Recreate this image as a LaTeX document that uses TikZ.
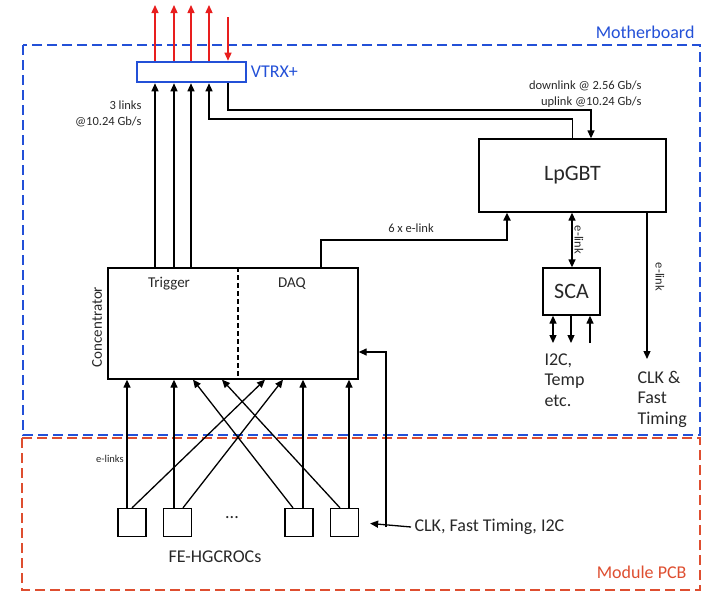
\documentclass[tikz,border=0pt]{standalone}
\usepackage{fontspec}
\setmainfont{Carlito}
\usetikzlibrary{arrows.meta,positioning}
\definecolor{mbblue}{RGB}{35,80,215}
\definecolor{pcbred}{RGB}{222,78,48}
\definecolor{arrred}{RGB}{232,30,30}
\definecolor{txtgray}{RGB}{40,40,40}

\tikzset{
  box/.style={draw,line width=1.3pt,inner sep=0pt},
  link/.style={line width=1.3pt,-{Triangle[length=8pt,width=7pt]}},
  dlink/.style={line width=1.3pt,{Triangle[length=8pt,width=7pt]}-{Triangle[length=8pt,width=7pt]}},
  redlink/.style={arrred,line width=1.3pt,-{Triangle[length=8pt,width=7pt]}},
  region/.style={line width=2.6pt,dash pattern=on 10pt off 5pt},
  small/.style={font=\fontsize{12.5}{16}\selectfont,text=txtgray},
  mid/.style={font=\fontsize{15}{18}\selectfont,text=txtgray},
  big/.style={font=\fontsize{18}{20.5}\selectfont,text=txtgray},
  huge/.style={font=\fontsize{22}{26}\selectfont,text=txtgray},
}

\begin{document}
\begin{tikzpicture}[x=1pt,y=-1pt]
\useasboundingbox (0,0) rectangle (710,592);

% boards
\draw[region,mbblue] (23,45) rectangle (700,435);
\draw[region,pcbred] (22,438) rectangle (700,590);
\node[big,text=mbblue,anchor=base east] (mblabel) at (698,38) {Motherboard};
\node[big,text=pcbred,anchor=base east] (pcblabel) at (690,578) {Module PCB};

% blocks
\node[box,draw=mbblue,line width=2.6pt,minimum width=109pt,minimum height=20pt] (vtrx) at (191.5,72) {};
\node[big,text=mbblue,anchor=west] (vtrxlabel) at (vtrx.east) {VTRX+};
\node[box,huge,minimum width=187pt,minimum height=73pt] (lpgbt) at (572.5,175.5) {LpGBT};
\node[box,huge,minimum width=57pt,minimum height=47pt] (sca) at (571.5,291.5) {SCA};
\node[box,minimum width=250pt,minimum height=111pt] (conc) at (233,323.5) {};
\draw[line width=1.3pt,dash pattern=on 5pt off 3pt] (238,0 |- conc.north) -- (238,0 |- conc.south);
\node[mid] (trig) at (169,284) {Trigger};
\node[mid] (daq) at (292,284) {DAQ};
\node[mid,rotate=90] (conclabel) at (97,327) {Concentrator};
\foreach \n/\x in {1/132,2/177.5,3/299,4/344.5}
  \node[box,minimum size=28pt] (fe\n) at (\x,522.5) {};
\node[big] (dots) at (232,518) {...};
\node[big] (fename) at (215,557) {FE-HGCROCs};

% optical links
\foreach \x [count=\i] in {155,174,191,209} {
  \coordinate (up\i) at (\x,5);
  \draw[redlink] (\x,0 |- vtrx.north) -- (up\i);
}
\coordinate (dn) at (228,17);
\draw[redlink] (dn) -- (dn |- vtrx.north);

% trigger and lpgbt links
\foreach \x in {155,174,191}
  \draw[link] (\x,0 |- conc.north) -- (\x,0 |- vtrx.south);
\node[small,anchor=east,align=right] (trigrate) at (145,113.5) {3 links\\@10.24 Gb/s};
\draw[link] (lpgbt.north) |- (209,119) -- (209,0 |- vtrx.south);
\draw[link] (228,0 |- vtrx.south) |- (591,110) -- (591,0 |- lpgbt.north);
\node[small,anchor=east,align=right] (lpgbtrate) at (645,94) {downlink @ 2.56 Gb/s\\uplink @10.24 Gb/s};
\draw[link,line width=2.6pt] (321,0 |- conc.north) |- (507,240) -- (507,0 |- lpgbt.south);
\node[small] (daqlink) at (411,228) {6 x e-link};

% slow control and clock
\draw[dlink] (572,0 |- lpgbt.south) -- (572,0 |- sca.north);
\node[small,rotate=-90] (scalink) at (579,240) {e-link};
\coordinate (clkout) at (647,359);
\draw[link] (clkout |- lpgbt.south) -- (clkout);
\node[small,rotate=-90] (clklink) at (660,277) {e-link};
\node[big,anchor=west,align=left] (clkfast) at (634,399) {CLK \&\\Fast\\Timing};
\coordinate (io1) at (553,343);
\coordinate (io2) at (571,343);
\coordinate (io3) at (590,343);
\draw[dlink] (io1 |- sca.south) -- (io1);
\draw[link] (io2 |- sca.south) -- (io2);
\draw[link] (io3) -- (io3 |- sca.south);
\node[big,anchor=west,align=left] (scaio) at (541,380) {I2C,\\Temp\\etc.};

% front-end links
\draw[link] (127,0 |- fe1.north) -- (127,0 |- conc.south);
\draw[link] (fe1.north) -- (265,0 |- conc.south);
\draw[link] (174,0 |- fe2.north) -- (174,0 |- conc.south);
\draw[link] (183,0 |- fe2.north) -- (283,0 |- conc.south);
\draw[link] (293,0 |- fe3.north) -- (193,0 |- conc.south);
\draw[link] (303,0 |- fe3.north) -- (303,0 |- conc.south);
\draw[link] (340,0 |- fe4.north) -- (222,0 |- conc.south);
\draw[link] (349,0 |- fe4.north) -- (349,0 |- conc.south);
\node[small,font=\fontsize{10.5}{12}\selectfont] (felinks) at (110,459) {e-links};

% clock input
\node[big,anchor=west] (clkin) at (411,527) {CLK, Fast Timing, I2C};
\draw[link,shorten >=11pt] (clkin.west) -- (fe4.east);
\draw[link] (386,0 |- clkin.west) |- (conc.east |- 0,352);
\end{tikzpicture}
\end{document}
